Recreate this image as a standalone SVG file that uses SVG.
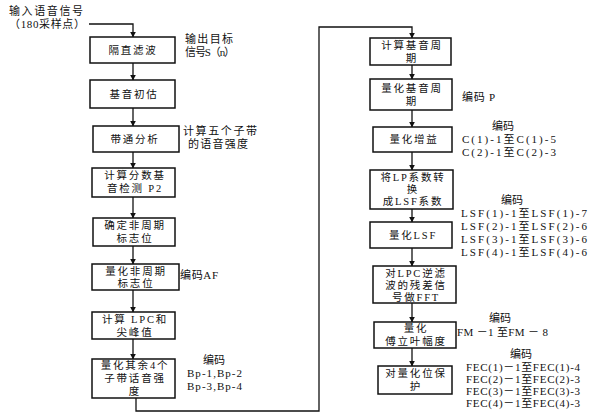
<svg xmlns="http://www.w3.org/2000/svg" width="596" height="418" viewBox="0 0 596 418">
<defs>
<style>
text{font-family:"Liberation Serif","Noto Sans CJK SC",serif;font-size:11px;fill:#111;}
.b{text-anchor:middle;letter-spacing:1.8px;font-size:10.5px;}
.m{text-anchor:middle;}
rect{fill:#fff;stroke:#111;stroke-width:1.5;}
.c{fill:none;stroke:#111;stroke-width:1.3;}
</style>
<marker id="ah" viewBox="0 0 10 10" refX="9" refY="5" markerWidth="6" markerHeight="6" orient="auto" markerUnits="userSpaceOnUse">
<path d="M0,0 L10,5 L0,10 z" fill="#111"/>
</marker>
</defs>
<rect x="0" y="0" width="596" height="418" style="fill:#fff;stroke:none"/>

<g id="connectors">
<path class="c" d="M89,24 H133 V37" marker-end="url(#ah)"/>
<path class="c" d="M133,63 V80" marker-end="url(#ah)"/>
<path class="c" d="M133,108 V126" marker-end="url(#ah)"/>
<path class="c" d="M133,152 V168" marker-end="url(#ah)"/>
<path class="c" d="M133,197 V218" marker-end="url(#ah)"/>
<path class="c" d="M133,246 V264" marker-end="url(#ah)"/>
<path class="c" d="M133,290 V312" marker-end="url(#ah)"/>
<path class="c" d="M133,339 V359" marker-end="url(#ah)"/>
<path class="c" d="M136,398 V411 H319 V27 H412 V38" marker-end="url(#ah)"/>
<path class="c" d="M412,65 V79" marker-end="url(#ah)"/>
<path class="c" d="M412,110 V127" marker-end="url(#ah)"/>
<path class="c" d="M412,152 V170" marker-end="url(#ah)"/>
<path class="c" d="M412,209 V222" marker-end="url(#ah)"/>
<path class="c" d="M412,248 V266" marker-end="url(#ah)"/>
<path class="c" d="M412,303 V322" marker-end="url(#ah)"/>
<path class="c" d="M412,348 V366" marker-end="url(#ah)"/>
</g>

<g id="input">
<text x="9" y="15" textLength="74">输入语音信号</text>
<text x="9" y="28" textLength="76">（180采样点）</text>
</g>

<g id="n1">
<rect x="90" y="37" width="85" height="26"/>
<text class="b" x="133" y="54">隔直滤波</text>
<text x="185" y="43" textLength="48">输出目标</text>
<text x="185" y="56" textLength="50">信号S（n）</text>
</g>
<g id="n2">
<rect x="90" y="80" width="85" height="28"/>
<text class="b" x="134" y="98">基音初估</text>
</g>
<g id="n3">
<rect x="93" y="126" width="86" height="26"/>
<text class="b" x="135" y="143">带通分析</text>
<text x="183" y="135" textLength="74">计算五个子带</text>
<text x="188" y="148" textLength="60">的语音强度</text>
</g>
<g id="n4">
<rect x="92" y="168" width="83" height="29"/>
<text class="b" x="135" y="179">计算分数基</text>
<text class="b" x="135" y="192">音检测 P2</text>
</g>
<g id="n5">
<rect x="93" y="218" width="82" height="28"/>
<text class="b" x="135" y="229">确定非周期</text>
<text class="b" x="135" y="242">标志位</text>
</g>
<g id="n6">
<rect x="92" y="264" width="87" height="26"/>
<text class="b" x="136" y="275">量化非周期</text>
<text class="b" x="136" y="287">标志位</text>
<text x="180" y="279" textLength="38">编码AF</text>
</g>
<g id="n7">
<rect x="92" y="312" width="83" height="27"/>
<text class="b" x="135" y="323">计算 LPC和</text>
<text class="b" x="135" y="336">尖峰值</text>
</g>
<g id="n8">
<rect x="92" y="359" width="83" height="39"/>
<text class="b" x="135" y="369">量化其余4个</text>
<text class="b" x="135" y="382">子带话音强</text>
<text class="b" x="135" y="395">度</text>
<text class="m" x="214" y="364">编码</text>
<text x="187" y="377" textLength="55">Bp-1,Bp-2</text>
<text x="187" y="390" textLength="55">Bp-3,Bp-4</text>
</g>

<g id="r1">
<rect x="370" y="38" width="81" height="27"/>
<text class="b" x="412" y="49">计算基音周</text>
<text class="b" x="412" y="62">期</text>
</g>
<g id="r2">
<rect x="370" y="79" width="82" height="31"/>
<text class="b" x="412" y="92">量化基音周</text>
<text class="b" x="412" y="105">期</text>
<text x="462" y="101" textLength="33">编码 P</text>
</g>
<g id="r3">
<rect x="373" y="127" width="79" height="25"/>
<text class="b" x="414" y="143">量化增益</text>
<text class="m" x="503" y="130">编码</text>
<text x="462" y="143" textLength="94">C(1)-1至C(1)-5</text>
<text x="462" y="156" textLength="94">C(2)-1至C(2)-3</text>
</g>
<g id="r4">
<rect x="370" y="170" width="83" height="39"/>
<text class="b" x="413" y="181">将LP系数转</text>
<text class="b" x="413" y="193">换</text>
<text class="b" x="413" y="205">成LSF系数</text>
</g>
<g id="r5">
<rect x="370" y="222" width="82" height="26"/>
<text class="b" x="413" y="239">量化LSF</text>
<text class="m" x="512" y="204">编码</text>
<text x="461" y="217" textLength="126">LSF(1)-1至LSF(1)-7</text>
<text x="461" y="230" textLength="126">LSF(2)-1至LSF(2)-6</text>
<text x="461" y="243" textLength="126">LSF(3)-1至LSF(3)-6</text>
<text x="461" y="256" textLength="126">LSF(4)-1至LSF(4)-6</text>
</g>
<g id="r6">
<rect x="373" y="266" width="83" height="37"/>
<text class="b" x="416" y="277">对LPC逆滤</text>
<text class="b" x="416" y="289">波的残差信</text>
<text class="b" x="416" y="301">号做FFT</text>
</g>
<g id="r7">
<rect x="374" y="322" width="82" height="26"/>
<text class="b" x="416" y="332">量化</text>
<text class="b" x="416" y="345">傅立叶幅度</text>
<text class="m" x="500" y="322">编码</text>
<text x="457" y="336" textLength="91">FM －1 至FM － 8</text>
</g>
<g id="r8">
<rect x="378" y="366" width="74" height="28"/>
<text class="b" x="416" y="377">对量化位保</text>
<text class="b" x="416" y="390">护</text>
<text class="m" x="521" y="358">编码</text>
<text x="466" y="371" textLength="114">FEC(1)－1至FEC(1)-4</text>
<text x="466" y="383" textLength="114">FEC(2)－1至FEC(2)-3</text>
<text x="466" y="395" textLength="114">FEC(3)－1至FEC(3)-3</text>
<text x="466" y="407" textLength="114">FEC(4)－1至FEC(4)-3</text>
</g>
</svg>
